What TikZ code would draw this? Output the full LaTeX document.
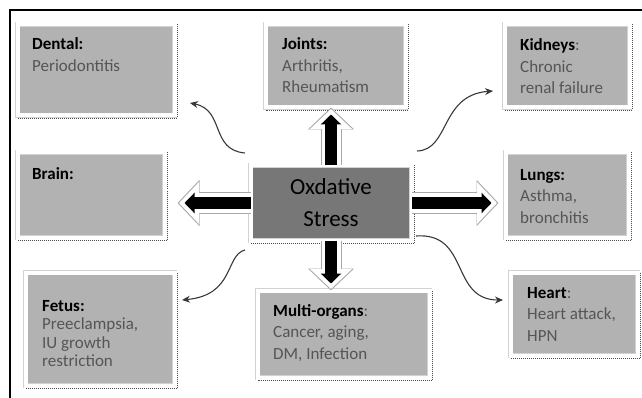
\documentclass[tikz,border=0pt]{standalone}
\usepackage{fontspec}
\setmainfont{Carlito}
\usetikzlibrary{arrows.meta}

\definecolor{boxgray}{HTML}{B2B2B2}
\definecolor{stressgray}{HTML}{777777}
\definecolor{framegray}{HTML}{D2D2D2}
\definecolor{notegray}{HTML}{555555}
\definecolor{curvegray}{HTML}{383838}

\newcommand{\hd}[1]{\textcolor{black}{\textbf{#1}}}

\begin{document}
\begin{tikzpicture}[x=1pt, y=-1pt,
    organ/.style={draw=framegray, double=white, double distance=4pt, line width=0.6pt,
                  fill=boxgray, inner sep=0pt, outer sep=0pt},
    organtext/.style={anchor=base west, align=left, inner sep=0pt, text=notegray,
                      font=\fontsize{17}{21.5}\selectfont},
    shadowline/.style={densely dotted, line width=1pt, black!70},
    bigarrow/.style={line width=12pt, -{Triangle[length=10pt,width=20pt]}, shorten >=7pt,
                     preaction={draw=framegray!80!black, line width=21pt, shorten >=0pt,
                                -{Triangle[length=22pt,width=45pt]}},
                     preaction={draw=white, line width=19pt, shorten >=1.5pt,
                                -{Triangle[length=20pt,width=41pt]}}},
    curvearrow/.style={curvegray, line width=1.1pt, -{Stealth[length=8pt,width=7pt]}}]

  \useasboundingbox (0,0) rectangle (642,398);
  % page frame
  \draw[line width=1.5pt] (10,398) -- (10,10) -- (642,10);

  % boxes
  \node[organ, minimum width=157, minimum height=91] (dental)  at (96,70) {};
  \node[organ, minimum width=140, minimum height=83] (joints)  at (335.5,66) {};
  \node[organ, minimum width=125, minimum height=83] (kidneys) at (567,66) {};
  \node[organ, minimum width=147, minimum height=85] (brain)   at (91,195) {};
  \node[organ, minimum width=123, minimum height=85] (lungs)   at (567,195) {};
  \node[organ, minimum width=149, minimum height=113] (fetus)  at (100,329) {};
  \node[organ, minimum width=172, minimum height=87] (multi)   at (343.5,334) {};
  \node[organ, minimum width=127, minimum height=83] (heart)   at (574,314) {};
  \node[organ, fill=stressgray, minimum width=161, minimum height=75, align=center,
        font=\fontsize{23}{32}\selectfont] (stress) at (331,203) {Oxdative\\Stress};

  \foreach \n in {dental,joints,kidneys,brain,lungs,fetus,multi,heart,stress}
    \draw[shadowline] ([shift={(2.8,0)}]\n.north east) -- ([shift={(2.8,2.8)}]\n.south east)
      -- ([shift={(0,2.8)}]\n.south west);

  % texts (placed at the baseline of their last line)
  \node[organtext] (dentaltxt)  at (32,71.5)  {\hd{Dental:}\\Periodontitis};
  \node[organtext] (jointstxt)  at (282,93)   {\hd{Joints:}\\Arthritis,\\Rheumatism};
  \node[organtext] (kidneystxt) at (520,94)   {\hd{Kidneys}:\\Chronic\\renal failure};
  \node[organtext] (braintxt)   at (32,180)   {\hd{Brain:}};
  \node[organtext] (lungstxt)   at (520,223)  {\hd{Lungs:}\\Asthma,\\bronchitis};
  \node[organtext, font=\fontsize{17}{18.5}\selectfont]
                   (fetustxt)   at (42,366.5) {\hd{Fetus:}\\Preeclampsia,\\IU growth\\restriction};
  \node[organtext] (multitxt)   at (273,359)  {\hd{Multi-organs}:\\Cancer, aging,\\DM, Infection};
  \node[organtext] (hearttxt)   at (527,341)  {\hd{Heart}:\\Heart attack,\\HPN};

  % block arrows
  \draw[bigarrow] (stress.north) -- (stress.north |- joints.south);
  \draw[bigarrow] (stress.south) -- (stress.south |- multi.north);
  \draw[bigarrow] (stress.west) -- ([xshift=13pt]stress.west -| brain.east);
  \draw[bigarrow] (stress.east) -- ([xshift=-7pt]stress.east -| lungs.west);

  % curved arrows
  \draw[curvearrow] ([shift={(-5.5,-12.5)}]stress.north west) .. controls +(-35,-3) and +(35,7)
    .. ([shift={(15.5,-12.5)}]dental.south east);
  \draw[curvearrow] ([shift={(5.5,-14.5)}]stress.north east) .. controls +(33,-1) and +(-53,4)
    .. ([shift={(-11.5,-16.5)}]kidneys.south west);
  \draw[curvearrow] ([shift={(-5.5,9.5)}]stress.south west) .. controls +(-20,5) and +(53,-5)
    .. ([shift={(7.5,27.5)}]fetus.north east);
  \draw[curvearrow] ([shift={(4.5,-4.5)}]stress.south east) .. controls +(54,-4) and +(-53,0)
    .. ([shift={(-7.5,27.5)}]heart.north west);
\end{tikzpicture}
\end{document}
